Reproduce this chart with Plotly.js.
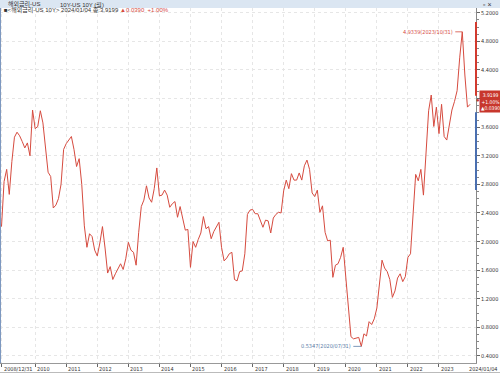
<!DOCTYPE html>
<html>
<head>
<meta charset="utf-8">
<script src="https://cdn.plot.ly/plotly-3.0.1.min.js"></script>
<style>html,body{margin:0;padding:0;background:#fff;}#chart{width:500px;height:373px;}</style>
</head>
<body>
<div id="chart"></div>
<script>
// US 10Y yield, month-end closes, 2008/12 .. 2023/12 plus 2024/01/04
const yields2008 = [2.21];
const yields2009 = [2.84, 3.01, 2.66, 3.12, 3.46, 3.53, 3.48, 3.40, 3.31, 3.38, 3.20, 3.84];
const yields2010 = [3.58, 3.61, 3.83, 3.66, 3.29, 2.97, 2.91, 2.47, 2.51, 2.60, 2.80, 3.29];
const yields2011 = [3.37, 3.42, 3.47, 3.29, 3.05, 3.16, 2.80, 2.22, 1.92, 2.11, 2.07, 1.88];
const yields2012 = [1.80, 1.98, 2.21, 1.91, 1.56, 1.65, 1.47, 1.55, 1.63, 1.69, 1.61, 1.76];
const yields2013 = [1.99, 1.88, 1.85, 1.67, 2.13, 2.49, 2.58, 2.78, 2.61, 2.55, 2.74, 3.03];
const yields2014 = [2.64, 2.65, 2.72, 2.65, 2.48, 2.53, 2.56, 2.34, 2.49, 2.34, 2.16, 2.17];
const yields2015 = [1.64, 2.00, 1.92, 2.03, 2.12, 2.35, 2.18, 2.21, 2.04, 2.14, 2.21, 2.27];
const yields2016 = [1.92, 1.73, 1.77, 1.83, 1.85, 1.47, 1.45, 1.58, 1.59, 1.83, 2.38, 2.44];
const yields2017 = [2.45, 2.39, 2.39, 2.28, 2.20, 2.30, 2.29, 2.12, 2.33, 2.38, 2.41, 2.40];
const yields2018 = [2.71, 2.86, 2.74, 2.95, 2.86, 2.86, 2.96, 2.86, 3.06, 3.14, 3.01, 2.68];
const yields2019 = [2.63, 2.72, 2.41, 2.50, 2.13, 2.01, 2.02, 1.50, 1.67, 1.69, 1.78, 1.92];
const yields2020 = [1.51, 1.15, 0.67, 0.64, 0.65, 0.66, 0.5347, 0.71, 0.68, 0.88, 0.84, 0.92];
const yields2021 = [1.07, 1.41, 1.74, 1.63, 1.58, 1.47, 1.22, 1.31, 1.49, 1.55, 1.44, 1.51];
const yields2022 = [1.78, 1.83, 2.34, 2.94, 2.85, 3.01, 2.65, 3.19, 3.83, 4.05, 3.61, 3.88];
const yields2023 = [3.51, 3.92, 3.47, 3.42, 3.64, 3.84, 3.96, 4.11, 4.57, 4.9339, 4.33, 3.8809];
const yields2024 = [3.9199];

const yTickValues = [0.4, 0.8, 1.2, 1.6, 2.0, 2.4, 2.8, 3.2, 3.6, 4.0, 4.4, 4.8, 5.2];
const lastChange = '▲0.0390';
const lastPct = '+1.00%';
const yearTickLabels = ['2010','2011','2012','2013','2014','2015','2016','2017','2018','2019','2020','2021','2022','2023'];
const firstLabel = '2008/12/31';
const lastLabel = '2024/01/04';
const headerName = '해외금리-US';
const headerItem = '10Y-US 10Y (월)';
const legendName = '<해외금리-US 10Y>';

const values = [].concat(yields2008, yields2009, yields2010, yields2011, yields2012, yields2013,
  yields2014, yields2015, yields2016, yields2017, yields2018, yields2019, yields2020,
  yields2021, yields2022, yields2023, yields2024);

// month-end date labels
const dates = ['2008/12/31'];
for (let y = 2009; y <= 2023; y++) {
  for (let m = 1; m <= 12; m++) {
    const d = new Date(Date.UTC(y, m, 0)).getUTCDate();
    dates.push(y + '/' + String(m).padStart(2,'0') + '/' + String(d).padStart(2,'0'));
  }
}
dates.push(lastLabel);
const idx = dates.map((_, i) => i);

const tickIdx = [0].concat(yearTickLabels.map(y => dates.findIndex(d => d.startsWith(y + '/01'))));
const tickTxt = [firstLabel].concat(yearTickLabels);

let maxI = 0, minI = 0;
values.forEach((v, i) => { if (v > values[maxI]) maxI = i; if (v < values[minI]) minI = i; });
const lastI = values.length - 1;
const lastV = values[lastI];

// the current-value box hides the tick label next to it
const yTickText = yTickValues.map(v => Math.abs(v - lastV) < 0.2 ? '' : v.toFixed(4));

const RED = '#d64b3f';
const FONT = 'Liberation Sans, Noto Sans CJK KR, sans-serif';
const NARROW = 'Liberation Sans Narrow, DejaVu Sans Condensed, Liberation Sans, sans-serif';
const H = 355, W = 476;

const annotations = [];
tickIdx.forEach((ti, k) => annotations.push({
  x: ti, xref: 'x', y: 0, yref: 'paper', yanchor: 'top', xanchor: 'left', xshift: 0, yshift: -1,
  text: tickTxt[k], showarrow: false, font: {family: NARROW, size: 5.5, color: '#333'}
}));
annotations.push({x: 500 / W, xref: 'paper', y: 0, yref: 'paper', yanchor: 'top', xanchor: 'right', yshift: -1,
  text: lastLabel, showarrow: false, font: {family: NARROW, size: 5.5, color: '#333'}});
// max / min
annotations.push({x: maxI, y: values[maxI], xref: 'x', yref: 'y',
  text: values[maxI].toFixed(4) + '(' + dates[maxI] + ')', showarrow: true, arrowhead: 0,
  arrowwidth: 0.8, arrowcolor: RED, ax: -7, ay: 0, xanchor: 'right',
  font: {family: NARROW, size: 5.5, color: RED}});
annotations.push({x: minI, y: values[minI], xref: 'x', yref: 'y',
  text: values[minI].toFixed(4) + '(' + dates[minI] + ')', showarrow: true, arrowhead: 0,
  arrowwidth: 0.8, arrowcolor: '#5a7da8', ax: -8, ay: 0, xanchor: 'right',
  font: {family: NARROW, size: 5.5, color: '#5a7da8'}});
// current value marker + box
annotations.push({x: 1, xref: 'paper', y: lastV, yref: 'y', xanchor: 'center', yanchor: 'middle', yshift: 4, xshift: 2,
  text: '●', showarrow: false, font: {family: FONT, size: 6, color: '#c8372d'}});
annotations.push({x: 479 / W, xref: 'paper', y: lastV, yref: 'y', xanchor: 'left', yanchor: 'middle', yshift: 3,
  text: lastV.toFixed(4) + '<br>' + lastPct + '<br>' + lastChange, showarrow: false,
  bgcolor: '#c8372d', borderpad: 1, align: 'center',
  font: {family: NARROW, size: 5, color: '#fff'}});
// header texts
annotations.push({x: 6 / W, xref: 'paper', y: 1 + 4 / H, yref: 'paper', xanchor: 'left', yanchor: 'middle',
  text: headerName, showarrow: false, font: {family: FONT, size: 6, color: '#333'}});
annotations.push({x: 58 / W, xref: 'paper', y: 1 + 4 / H, yref: 'paper', xanchor: 'left', yanchor: 'middle',
  text: headerItem, showarrow: false, font: {family: FONT, size: 6, color: '#333'}});
annotations.push({x: 481 / W, xref: 'paper', y: 1 + 4 / H, yref: 'paper', xanchor: 'left', yanchor: 'middle',
  text: '▫ ×', showarrow: false, font: {family: FONT, size: 7, color: '#333'}});
// legend line
annotations.push({x: 2 / W, xref: 'paper', y: 1 - 2 / H, yref: 'paper', xanchor: 'left', yanchor: 'middle',
  text: '■' + legendName.replace(/</g, '&lt;').replace(/>/g, '&gt;') + ' ' + lastLabel + ' 종:' + lastV.toFixed(4) +
    ' <span style="color:' + RED + '">' + lastChange + '  ' + lastPct + '</span>',
  showarrow: false, font: {family: FONT, size: 6, color: '#333'}});

const shapes = [
  {type: 'rect', xref: 'paper', yref: 'paper', x0: 0, x1: 500 / W, y0: 1, y1: 1 + 8 / H,
   fillcolor: '#dbe6f2', line: {width: 0}, layer: 'below'},
  {type: 'line', xref: 'paper', yref: 'paper', x0: 0, x1: 0, y0: 0, y1: 1, line: {color: '#7d98c0', width: 2}},
  {type: 'line', xref: 'paper', yref: 'y', x0: 1, x1: 1, y0: 4.04, y1: 5.07, line: {color: '#d23a2e', width: 2}},
  {type: 'line', xref: 'paper', yref: 'y', x0: 1, x1: 1, y0: 2.72, y1: 3.81, line: {color: '#4a6fb0', width: 2}},
  {type: 'line', xref: 'paper', yref: 'paper', x0: 0, x1: 500 / W, y0: -9.5 / H, y1: -9.5 / H, line: {color: '#bbb', width: 1}}
];

const trace = {
  x: idx, y: values, type: 'scatter', mode: 'lines',
  line: {color: RED, width: 1}, hoverinfo: 'skip'
};

const layout = {
  width: 500, height: 373,
  margin: {l: 0, r: 24, t: 8, b: 10, pad: 0},
  paper_bgcolor: '#fff', plot_bgcolor: '#fff',
  showlegend: false,
  xaxis: {
    range: [-0.58, 183.3], tickmode: 'array', tickvals: tickIdx, ticktext: tickTxt,
    showticklabels: false, ticks: 'outside', ticklen: 3, tickcolor: '#666',
    showgrid: true, gridcolor: '#e6e6e6', griddash: 'dot', gridwidth: 1,
    zeroline: false, showline: true, linecolor: '#999', linewidth: 1, fixedrange: true
  },
  yaxis: {
    side: 'right', range: [0.302, 5.267], tickmode: 'array', tickvals: yTickValues, ticktext: yTickText,
    ticks: 'outside', ticklen: 3, tickcolor: '#666',
    minor: {dtick: 0.1, tick0: 0.4, ticks: 'outside', ticklen: 2, tickcolor: '#888', showgrid: false},
    tickfont: {family: NARROW, size: 5.5, color: '#333'},
    showgrid: true, gridcolor: '#e6e6e6', griddash: 'dot', gridwidth: 1,
    zeroline: false, showline: true, linecolor: '#888', linewidth: 1, fixedrange: true
  },
  annotations: annotations,
  shapes: shapes
};

Plotly.newPlot('chart', [trace], layout, {displayModeBar: false, staticPlot: true});
</script>
</body>
</html>
